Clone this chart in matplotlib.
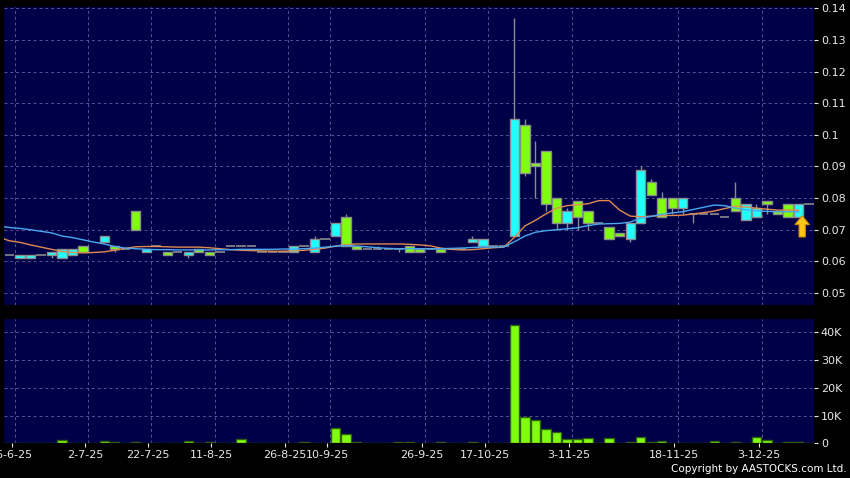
import matplotlib
matplotlib.use("Agg")
import matplotlib.pyplot as plt
from matplotlib.patches import FancyArrow
import numpy as np

# daily candles (one slot per trading day shown), nan = no candle
opens = [0.062, 0.061, 0.061, 0.062, 0.062, 0.061, 0.062, 0.065, np.nan, 0.066,
         0.065, 0.064, 0.076, 0.063, 0.065, 0.063, 0.063, 0.062, 0.064, 0.063,
         0.063, 0.065, 0.065, 0.065, 0.063, 0.063, 0.063, 0.063, 0.065, 0.063,
         0.067, 0.068, 0.074, 0.065, 0.064, 0.064, 0.064, 0.064, 0.065, 0.064,
         0.064, 0.064, 0.064, 0.064, 0.066, 0.065, 0.065, 0.065, 0.068, 0.103,
         0.091, 0.095, 0.080, 0.072, 0.079, 0.076, 0.072, 0.071, 0.069, 0.067,
         0.072, 0.085, 0.080, 0.080, 0.077, 0.075, 0.075, 0.075, 0.074, 0.080,
         0.073, 0.074, 0.079, 0.076, 0.078, 0.074, 0.078]
closes = [0.062, 0.062, 0.062, 0.062, 0.063, 0.064, 0.064, 0.063, np.nan, 0.068,
          0.064, 0.064, 0.070, 0.064, 0.065, 0.062, 0.063, 0.063, 0.063, 0.062,
          0.063, 0.065, 0.065, 0.065, 0.063, 0.063, 0.063, 0.065, 0.065, 0.067,
          0.067, 0.072, 0.065, 0.064, 0.064, 0.064, 0.064, 0.064, 0.063, 0.063,
          0.064, 0.063, 0.064, 0.064, 0.067, 0.067, 0.065, 0.065, 0.105, 0.088,
          0.090, 0.078, 0.072, 0.076, 0.074, 0.072, 0.072, 0.067, 0.068, 0.072,
          0.089, 0.081, 0.074, 0.077, 0.080, 0.075, 0.075, 0.075, 0.074, 0.076,
          0.078, 0.077, 0.078, 0.075, 0.074, 0.078, 0.078]
highs = [0.062, 0.062, 0.062, 0.062, 0.063, 0.064, 0.064, 0.065, np.nan, 0.068,
         0.065, 0.064, 0.076, 0.064, 0.065, 0.063, 0.063, 0.063, 0.064, 0.063,
         0.063, 0.065, 0.065, 0.065, 0.063, 0.063, 0.063, 0.065, 0.065, 0.068,
         0.067, 0.072, 0.075, 0.065, 0.064, 0.065, 0.064, 0.064, 0.065, 0.064,
         0.064, 0.064, 0.064, 0.064, 0.068, 0.067, 0.065, 0.065, 0.137, 0.105,
         0.098, 0.095, 0.080, 0.077, 0.079, 0.076, 0.072, 0.071, 0.069, 0.072,
         0.090, 0.086, 0.082, 0.080, 0.080, 0.075, 0.075, 0.075, 0.074, 0.085,
         0.078, 0.078, 0.079, 0.076, 0.078, 0.078, 0.078]
lows = [0.062, 0.061, 0.061, 0.062, 0.061, 0.061, 0.062, 0.063, np.nan, 0.066,
        0.063, 0.064, 0.070, 0.063, 0.065, 0.062, 0.063, 0.061, 0.063, 0.062,
        0.063, 0.065, 0.065, 0.065, 0.063, 0.063, 0.063, 0.063, 0.065, 0.063,
        0.067, 0.068, 0.065, 0.064, 0.064, 0.064, 0.064, 0.063, 0.063, 0.063,
        0.064, 0.063, 0.064, 0.064, 0.066, 0.065, 0.065, 0.065, 0.068, 0.087,
        0.080, 0.076, 0.070, 0.070, 0.070, 0.070, 0.072, 0.067, 0.068, 0.066,
        0.072, 0.081, 0.074, 0.075, 0.075, 0.072, 0.075, 0.075, 0.074, 0.076,
        0.073, 0.074, 0.075, 0.075, 0.074, 0.074, 0.078]
volumes = [0, 0, 0, 0, 300, 1100, 300, 0, 0, 850,
           600, 0, 600, 200, 0, 300, 300, 900, 300, 600,
           0, 0, 1700, 150, 150, 0, 0, 300, 700, 0,
           0, 5400, 3300, 500, 0, 0, 0, 500, 500, 200,
           0, 500, 0, 0, 500, 0, 0, 0, 42800, 9400,
           8300, 5100, 4200, 1700, 1700, 1900, 0, 1900, 0, 500,
           2300, 400, 1000, 300, 300, 300, 0, 800, 0, 500,
           250, 2300, 1400, 300, 700, 700, 0]

# moving averages, slots -1 .. 75
ma_short = [0.0676, 0.0665, 0.0660, 0.0652, 0.0645, 0.0638, 0.0631, 0.0628, 0.0627, 0.0628,
            0.0630, 0.0635, 0.0641, 0.0646, 0.0647, 0.0647, 0.0646, 0.0645, 0.0645, 0.0645,
            0.0643, 0.0640, 0.0637, 0.0635, 0.0634, 0.0633, 0.0632, 0.0632, 0.0633, 0.0635,
            0.0638, 0.0642, 0.0648, 0.0653, 0.0655, 0.0655, 0.0655, 0.0655, 0.0655, 0.0654,
            0.0652, 0.0649, 0.0642, 0.0638, 0.0636, 0.0637, 0.0640, 0.0643, 0.0645, 0.0676,
            0.0712, 0.0730, 0.0750, 0.0768, 0.0776, 0.0779, 0.0782, 0.0792, 0.0792, 0.0762,
            0.0743, 0.0741, 0.0743, 0.0745, 0.0745, 0.0746, 0.0750, 0.0754, 0.0759, 0.0767,
            0.0774, 0.0772, 0.0768, 0.0765, 0.0762, 0.0762, 0.0762]
ma_long = [0.0712, 0.0707, 0.0704, 0.0700, 0.0695, 0.0690, 0.0680, 0.0675, 0.0668, 0.0661,
           0.0655, 0.0647, 0.0642, 0.0640, 0.0638, 0.0637, 0.0637, 0.0636, 0.0636, 0.0636,
           0.0636, 0.0637, 0.0637, 0.0638, 0.0638, 0.0638, 0.0638, 0.0639, 0.0639, 0.0640,
           0.0642, 0.0645, 0.0648, 0.0650, 0.0648, 0.0646, 0.0643, 0.0641, 0.0640, 0.0640,
           0.0640, 0.0640, 0.0640, 0.0641, 0.0642, 0.0644, 0.0645, 0.0645, 0.0646, 0.0662,
           0.0680, 0.0692, 0.0697, 0.0700, 0.0703, 0.0706, 0.0713, 0.0718, 0.0719, 0.0720,
           0.0724, 0.0737, 0.0742, 0.0749, 0.0753, 0.0757, 0.0764, 0.0771, 0.0778, 0.0776,
           0.0768, 0.0763, 0.0760, 0.0758, 0.0757, 0.0757, 0.0757]

# date labels and the slot where each starts
date_slots = [1, 8, 14, 20, 27, 31, 40, 46, 54, 64, 72]
date_labels = ["16-6-25", "2-7-25", "22-7-25", "11-8-25", "26-8-25", "10-9-25",
               "26-9-25", "17-10-25", "3-11-25", "18-11-25", "3-12-25"]
price_ticks = [0.05, 0.06, 0.07, 0.08, 0.09, 0.1, 0.11, 0.12, 0.13, 0.14]
price_labels = ["0.05", "0.06", "0.07", "0.08", "0.09", "0.1", "0.11", "0.12", "0.13", "0.14"]
vol_ticks = [0, 10000, 20000, 30000, 40000]
vol_labels = ["0", "10K", "20K", "30K", "40K"]

bg = "#000048"
grid_c = "#55558f"
txt_c = "#e8e8e8"
up_c = "#22ffff"
dn_c = "#80ff10"
edge_c = "#8c8c8c"

o = np.array(opens)
c = np.array(closes)
h = np.array(highs)
l = np.array(lows)
v = np.array(volumes)
x = np.arange(len(o))
bw = 0.88

fig = plt.figure(figsize=(8.5, 4.78), dpi=100, facecolor="black")
ax = fig.add_axes([0.0047, 0.3619, 0.9529, 0.6241], facecolor=bg)
axv = fig.add_axes([0.0047, 0.0722, 0.9529, 0.2605], facecolor=bg)

xmin, xmax = -0.52, 76.47

for a in (ax, axv):
    for s in a.spines.values():
        s.set_visible(False)
    a.set_xlim(xmin, xmax)
    for d in date_slots:
        a.axvline(d - 0.5, color=grid_c, lw=0.7, ls=(0, (3, 3)), zorder=0)
    a.yaxis.tick_right()
    a.tick_params(axis="y", colors=txt_c, labelsize=8, length=3, width=0.8, pad=2)

# price panel
ax.set_ylim(0.0462, 0.1405)
ax.set_yticks(price_ticks)
ax.set_yticklabels(price_labels)
for t in price_ticks:
    ax.axhline(t, color=grid_c, lw=0.7, ls=(0, (3, 3)), zorder=0)
ax.set_xticks([])

ok = ~np.isnan(o)
ax.vlines(x[ok], l[ok], h[ok], color=edge_c, lw=1, zorder=2)
up = ok & (c > o)
dn = ok & (c < o)
dj = ok & (c == o)
ax.bar(x[up], (c - o)[up], bottom=o[up], width=bw, color=up_c, edgecolor=edge_c, lw=1, zorder=3)
ax.bar(x[dn], (o - c)[dn], bottom=c[dn], width=bw, color=dn_c, edgecolor=edge_c, lw=1, zorder=3)
ax.hlines(c[dj], x[dj] - bw / 2, x[dj] + bw / 2, color=edge_c, lw=1.2, zorder=3)

ma_x = np.arange(-1, len(ma_short) - 1)
ax.plot(ma_x, ma_short, color="#e08a50", lw=1, zorder=4)
ax.plot(ma_x, ma_long, color="#4aa8f0", lw=1, zorder=4)

ax.add_patch(FancyArrow(75.35, 0.0677, 0, 0.0067, width=0.6, head_width=1.4,
                        head_length=0.0028, length_includes_head=True,
                        facecolor="#ffc61a", edgecolor="#c98a00", lw=0.8, zorder=5))

# volume panel
axv.set_ylim(0, 44860)
axv.set_yticks(vol_ticks)
axv.set_yticklabels(vol_labels)
for t in vol_ticks:
    axv.axhline(t, color=grid_c, lw=0.7, ls=(0, (3, 3)), zorder=0)
axv.bar(x, v, width=bw, color=dn_c, edgecolor="#2f6010", lw=1, zorder=3)
axv.set_xticks([d - 0.8 for d in date_slots])
axv.set_xticklabels(date_labels)
axv.tick_params(axis="x", colors=txt_c, labelsize=8, length=3, width=0.8, pad=2)

fig.text(0.996, 0.008, "Copyright by AASTOCKS.com Ltd.", color="white",
         fontsize=7.5, ha="right", va="bottom")

fig.savefig("out.png", dpi=100, facecolor="black")
